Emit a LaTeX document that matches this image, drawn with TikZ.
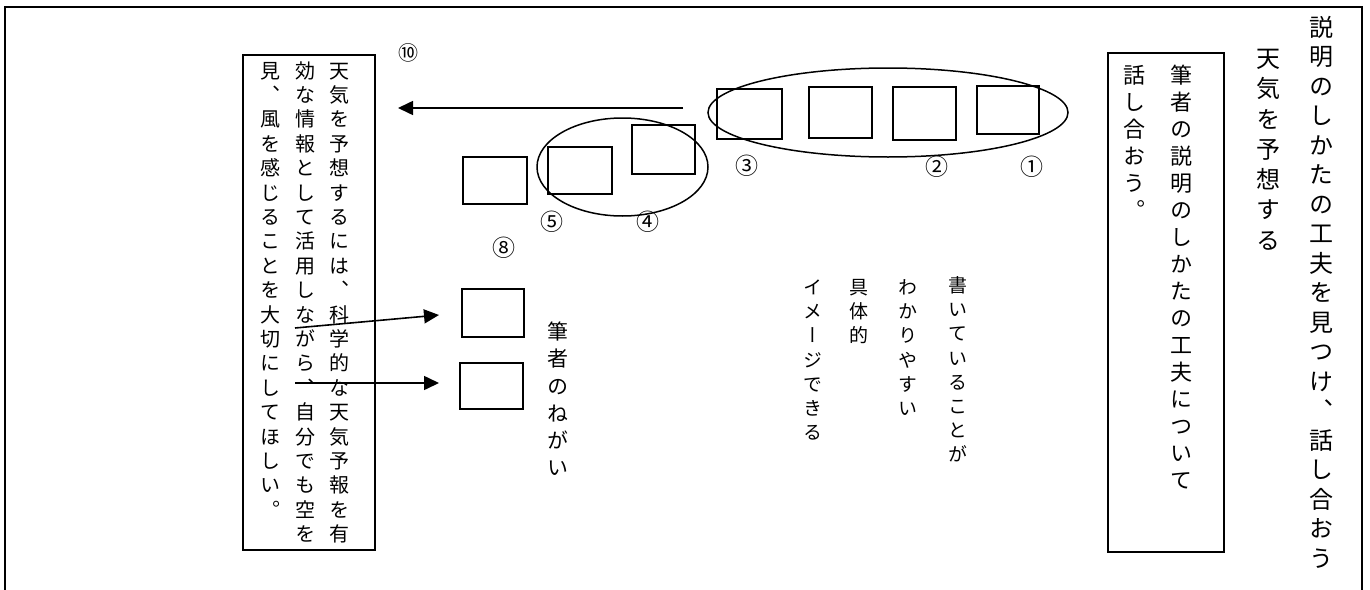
\documentclass[tikz,border=0pt]{standalone}
\usepackage{fontspec}
\usetikzlibrary{arrows.meta,shapes.geometric}
\newfontfamily\jpv[RawFeature=+vert]{Noto Sans CJK JP}
\newfontfamily\jp{Noto Sans CJK JP}
\newdimen\vpitch
\makeatletter
\newcommand\vcol[2]{\vpitch=#1\relax\vbox{\offinterlineskip\vcol@loop#2\relax}}
\def\vcol@loop#1{\ifx\relax#1\else\vcol@cell{#1}\expandafter\vcol@loop\fi}
\def\vcol@cell#1{\vbox to\vpitch{\vss\hbox to 1em{\hss\smash{#1}\hss}\kern\dimexpr(\vpitch-1em)/2+0.12em\relax}}
\makeatother
\tikzset{
  vt/.style={inner sep=0pt, anchor=north},
  box/.style={draw, line width=1.6pt, inner sep=0pt},
  bigbox/.style={draw, line width=1.8pt, inner sep=0pt},
  grp/.style={draw, ellipse, line width=1.5pt, inner sep=0pt},
  num/.style={inner sep=0pt, font=\jp\fontsize{23}{23}\selectfont},
  arr/.style={line width=1.6pt, -{Triangle[length=15pt,width=14pt]}},
}
\begin{document}
\begin{tikzpicture}[x=1pt,y=-1pt]
\useasboundingbox (0,0) rectangle (1370,589);
% outer frame (bottom edge lies outside the picture)
\begin{scope}
\clip (0,0) rectangle (1370,589);
\draw[line width=2.2pt] (5,600) -- (5,7) -- (1362,7) -- (1362,600);
\end{scope}

% right side texts
\node[vt, font=\jpv\fontsize{24}{24}\selectfont] (title) at (1321,12) {\vcol{29.5pt}{説明のしかたの工夫を見つけ、話し合おう}};
\node[vt, font=\jpv\fontsize{24}{24}\selectfont] (sub) at (1268,43) {\vcol{30.3pt}{天気を予想する}};

% right box
\node[bigbox, minimum width=116pt, minimum height=499pt] (rbox) at (1166,302.5) {};
\node[vt, font=\jpv\fontsize{22}{22}\selectfont] (rc1) at (1181,61.5) {\vcol{27pt}{筆者の説明のしかたの工夫について}};
\node[vt, font=\jpv\fontsize{22}{22}\selectfont] (rc2) at (1134,61.5) {\vcol{27pt}{話し合おう。}};

% left box
\node[bigbox, minimum width=132pt, minimum height=495pt] (lbox) at (309,302.5) {};
\node[vt, font=\jpv\fontsize{20}{20}\selectfont] (lc1) at (339,58) {\vcol{24.4pt}{天気を予想するには、科学的な天気予報を有}};
\node[vt, font=\jpv\fontsize{20}{20}\selectfont] (lc2) at (305,58) {\vcol{24.4pt}{効な情報として活用しながら、自分でも空を}};
\node[vt, font=\jpv\fontsize{20}{20}\selectfont] (lc3) at (270,58) {\vcol{24.4pt}{見、風を感じることを大切にしてほしい。}};

% middle texts
\node[vt, font=\jpv\fontsize{19}{19}\selectfont] (m1) at (958,273) {\vcol{24.2pt}{書いていることが}};
\node[vt, font=\jpv\fontsize{19}{19}\selectfont] (m2) at (908,275) {\vcol{24.2pt}{わかりやすい}};
\node[vt, font=\jpv\fontsize{19}{19}\selectfont] (m3) at (859,275) {\vcol{24.2pt}{具体的}};
\node[vt, font=\jpv\fontsize{19}{19}\selectfont] (m4) at (813,275) {\vcol{24.2pt}{イメージできる}};
\node[vt, font=\jpv\fontsize{21}{21}\selectfont] (neg) at (558,318) {\vcol{27.2pt}{筆者のねがい}};

% top row of boxes
\node[box, minimum width=62pt, minimum height=48pt] (b1) at (1008,110) {};
\node[box, minimum width=63pt, minimum height=53pt] (b2) at (924.5,113.5) {};
\node[box, minimum width=63pt, minimum height=51pt] (bx) at (840.5,112.5) {};
\node[box, minimum width=65pt, minimum height=50pt] (b3) at (749.5,114) {};
\node[box, minimum width=63pt, minimum height=49pt] (b4) at (663.5,149.5) {};
\node[box, minimum width=64pt, minimum height=47pt] (b5) at (580,170.5) {};
\node[box, minimum width=64pt, minimum height=47pt] (b8) at (495,180.5) {};
% lower boxes
\node[box, minimum width=62pt, minimum height=48pt] (ba) at (493,313) {};
\node[box, minimum width=63pt, minimum height=46pt] (bb) at (491.5,386) {};

% group ellipses
\node[grp, minimum width=360pt, minimum height=89pt] (g1) at (888,112.5) {};
\node[grp, minimum width=171pt, minimum height=98pt] (g2) at (622.5,167) {};

% numbers
\node[num, font=\jp\fontsize{20}{20}\selectfont] (n10) at (408,53) {⑩};
\node[num] (n1) at (1032,167) {①};
\node[num] (n2) at (937,167) {②};
\node[num] (n3) at (747,166) {③};
\node[num] (n4) at (648,222) {④};
\node[num] (n5) at (552,222) {⑤};
\node[num] (n8) at (504,248) {⑧};

% arrows
\coordinate (a0s) at (683,108);
\coordinate (a0e) at (398,108);
\coordinate (a1s) at (295,328);
\coordinate (a1e) at (439,315);
\coordinate (a2s) at (295,383);
\coordinate (a2e) at (439,383);
\draw[arr] (a0s) -- (a0e);
\draw[arr] (a1s) -- (a1e);
\draw[arr] (a2s) -- (a2e);
\end{tikzpicture}
\end{document}
